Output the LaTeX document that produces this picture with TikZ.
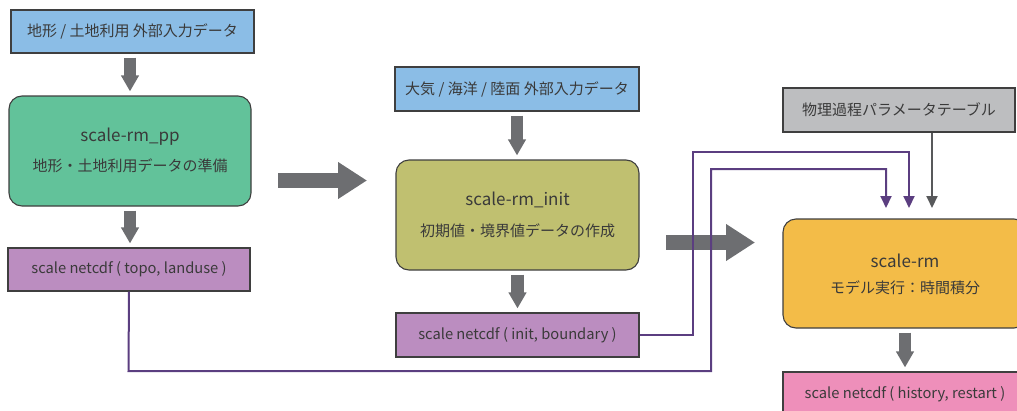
\documentclass[tikz,border=0pt]{standalone}
\usepackage{fontspec}
\setmainfont{Noto Sans CJK JP}
\usetikzlibrary{arrows.meta,calc}
\definecolor{cblue}{HTML}{8BBDE6}
\definecolor{cgreen}{HTML}{62C29A}
\definecolor{cpurple}{HTML}{BB8DC0}
\definecolor{colive}{HTML}{C0C070}
\definecolor{cgray}{HTML}{BDBEC0}
\definecolor{corange}{HTML}{F3BC48}
\definecolor{cpink}{HTML}{EE8FBA}
\definecolor{arrowgray}{HTML}{6D6E71}
\definecolor{thingray}{HTML}{58595B}
\definecolor{linepurple}{HTML}{5B3E80}
\definecolor{txt}{HTML}{3A3A3A}
\definecolor{bord}{HTML}{3F3F3F}
\tikzset{
  databox/.style={draw=bord, line width=1.1pt, minimum width=243pt, minimum height=43pt, inner sep=0pt, text=txt, font=\fontsize{14.7}{16}\selectfont},
  procbox/.style={draw=bord, line width=1.1pt, rounded corners=13pt, minimum width=243pt, minimum height=110pt, inner sep=0pt},
  titletext/.style={text=txt, inner sep=0pt, font=\fontsize{17}{19}\selectfont},
  subtext/.style={text=txt, inner sep=0pt, font=\fontsize{15}{17}\selectfont},
  jptext/.style={font=\fontsize{15}{17}\selectfont},
  bigdown/.style={draw=arrowgray, line width=12.5pt, -{Triangle[width=17pt,length=16pt]}, shorten <=4pt, shorten >=4pt},
  bigright/.style={draw=arrowgray, line width=15pt, -{Triangle[width=35pt,length=29pt]}},
  feedline/.style={draw=linepurple, line width=2pt, -{Triangle[width=11pt,length=12pt]}},
  paramline/.style={draw=thingray, line width=2pt, -{Triangle[width=11pt,length=12pt]}},
}
\begin{document}
\begin{tikzpicture}[x=1pt,y=-1pt]
\useasboundingbox (0,0) rectangle (1017,410);
\clip (0,0) rectangle (1017,410);
% column 1
\node[databox, fill=cblue, jptext, minimum width=243pt] (in1) at (132.5,31.5) {地形 / 土地利用 外部入力データ};
\node[procbox, fill=cgreen, minimum width=242pt] (pp) at (130,151) {};
\node[titletext] (ppt) at ($(pp.center)+(0,-14)$) {scale-rm\_pp};
\node[subtext] (pps) at ($(pp.center)+(0,15)$) {地形・土地利用データの準備};
\node[databox, fill=cpurple, minimum width=242pt] (out1) at (129,269.5) {scale netcdf ( topo, landuse )};
% column 2
\node[databox, fill=cblue, jptext, minimum width=244pt, minimum height=44pt] (in2) at (517,89) {大気 / 海洋 / 陸面 外部入力データ};
\node[procbox, fill=colive] (init) at (517.5,215) {};
\node[titletext] (initt) at ($(init.center)+(0,-15)$) {scale-rm\_init};
\node[subtext] (inits) at ($(init.center)+(0,16)$) {初期値・境界値データの作成};
\node[databox, fill=cpurple, minimum height=44pt] (out2) at (517.5,335) {scale netcdf ( init, boundary )};
% column 3
\node[databox, fill=cgray, jptext, minimum width=232pt, minimum height=44pt] (par) at (899,110) {物理過程パラメータテーブル};
\node[procbox, fill=corange, minimum width=244pt, minimum height=109pt] (rm) at (905,273.5) {};
\node[titletext] (rmt) at ($(rm.center)+(0,-13)$) {scale-rm};
\node[subtext] (rms) at ($(rm.center)+(0,14)$) {モデル実行：時間積分};
\node[databox, fill=cpink, minimum width=244pt, minimum height=44pt] (out3) at (905,394) {scale netcdf ( history, restart )};
% vertical thick arrows
\draw[bigdown] (in1.south -| pp.north) -- (pp.north);
\draw[bigdown] (pp.south) -- (out1.north -| pp.south);
\draw[bigdown] (in2.south) -- (init.north -| in2.south);
\draw[bigdown] (init.south -| out2.north) -- (out2.north);
\draw[bigdown] (rm.south) -- (out3.north);
% horizontal thick arrows
\coordinate (r1a) at (278,180.5);
\coordinate (r1b) at (367,180.5);
\coordinate (r2a) at (666,242.5);
\coordinate (r2b) at (755,242.5);
\draw[bigright] (r1a) -- (r1b);
\draw[bigright] (r2a) -- (r2b);
% feed lines
\coordinate (t1) at (886,219);
\coordinate (t2) at (909,219);
\coordinate (t3) at (932,219);
\draw[feedline, shorten >=11pt] (out2.east) -- (693,335) |- (909,152) -- (t2);
\draw[feedline, shorten >=11pt] (out1.south) -- (128.5,371) -| (711,169) -| (t1);
\draw[paramline, shorten >=11pt] (par.south -| t3) -- (t3);
\end{tikzpicture}
\end{document}
